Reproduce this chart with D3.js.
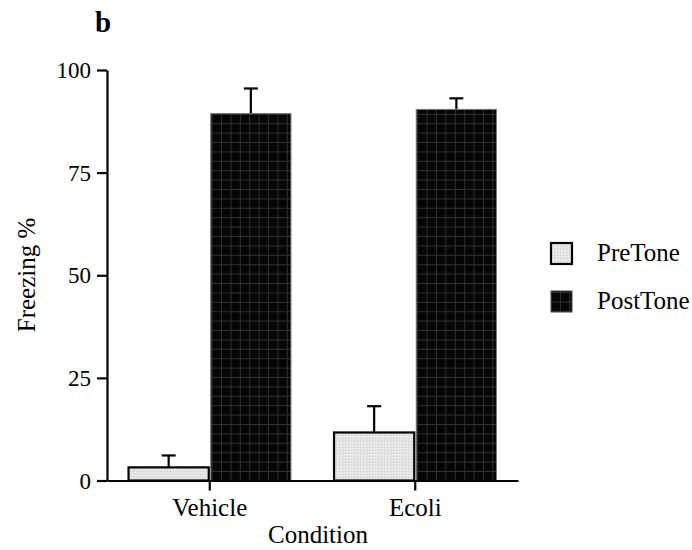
<!DOCTYPE html>
<html>
<head>
<meta charset="utf-8">
<script src="https://cdn.jsdelivr.net/npm/d3@7"></script>
<style>
  body { margin: 0; background: #fff; }
  text { font-family: "Liberation Serif", "Times New Roman", serif; fill: #000; }
</style>
</head>
<body>
<div id="chart"></div>
<script>
"use strict";

const conditions = ["Vehicle", "Ecoli"];
const phases = ["PreTone", "PostTone"];
const preTone = [3.2, 11.7];
const postTone = [89.4, 90.4];
const preToneErr = [2.9, 6.4];
const postToneErr = [6.1, 2.7];
const yTicks = [0, 25, 50, 75, 100];

const width = 692,
    height = 550;

const svg = d3.select("#chart").append("svg")
    .attr("width", width)
    .attr("height", height);

const defs = svg.append("defs");

// stippled light grey for PreTone
const pre = defs.append("pattern")
    .attr("id", "pre")
    .attr("patternUnits", "userSpaceOnUse")
    .attr("width", 3)
    .attr("height", 3);
pre.append("rect").attr("width", 3).attr("height", 3).attr("fill", "#e4e4e4");
pre.append("rect").attr("width", 1).attr("height", 1).attr("fill", "#cfcfcf");
pre.append("rect").attr("x", 2).attr("y", 1).attr("width", 1).attr("height", 1).attr("fill", "#f2f2f2");

// black with a faint grid for PostTone
const post = defs.append("pattern")
    .attr("id", "post")
    .attr("patternUnits", "userSpaceOnUse")
    .attr("width", 9.4)
    .attr("height", 9.4)
    .attr("x", 0.5)
    .attr("y", 2);
post.append("rect").attr("width", 9.4).attr("height", 9.4).attr("fill", "#050505");
post.append("rect").attr("x", 8.4).attr("width", 1).attr("height", 9.4).attr("fill", "#303030");
post.append("rect").attr("y", 8.4).attr("width", 9.4).attr("height", 1).attr("fill", "#303030");

const x0 = d3.scaleBand()
    .domain(conditions)
    .range([107, 518])
    .paddingInner(0.2)
    .paddingOuter(0.1);

const x1 = d3.scaleBand()
    .domain(phases)
    .range([0, x0.bandwidth()]);

const y = d3.scaleLinear()
    .domain([0, 100])
    .range([480.5, 70]);

const rows = conditions.map((c, i) => ({
    condition: c,
    bars: [
        {phase: "PreTone", value: preTone[i], err: preToneErr[i]},
        {phase: "PostTone", value: postTone[i], err: postToneErr[i]}
    ]
}));

const groups = svg.append("g").selectAll("g")
    .data(rows)
    .join("g")
    .attr("transform", d => `translate(${x0(d.condition)},0)`);

// error bars (drawn first so the bar covers the lower half)
groups.selectAll("line.err")
    .data(d => d.bars)
    .join("line")
    .attr("class", "err")
    .attr("x1", d => x1(d.phase) + x1.bandwidth() / 2)
    .attr("x2", d => x1(d.phase) + x1.bandwidth() / 2)
    .attr("y1", d => y(d.value))
    .attr("y2", d => y(d.value + d.err))
    .attr("stroke", "#000")
    .attr("stroke-width", 2.2);

groups.selectAll("line.cap")
    .data(d => d.bars)
    .join("line")
    .attr("class", "cap")
    .attr("x1", d => x1(d.phase) + x1.bandwidth() / 2 - 7)
    .attr("x2", d => x1(d.phase) + x1.bandwidth() / 2 + 7)
    .attr("y1", d => y(d.value + d.err))
    .attr("y2", d => y(d.value + d.err))
    .attr("stroke", "#000")
    .attr("stroke-width", 2.2);

groups.selectAll("rect")
    .data(d => d.bars)
    .join("rect")
    .attr("x", d => x1(d.phase) + 1)
    .attr("y", d => y(d.value))
    .attr("width", x1.bandwidth() - 2)
    .attr("height", d => y(0) - y(d.value))
    .attr("fill", d => d.phase === "PreTone" ? "url(#pre)" : "url(#post)")
    .attr("stroke", d => d.phase === "PreTone" ? "#000" : "#777")
    .attr("stroke-width", d => d.phase === "PreTone" ? 2.2 : 1);

// y axis
const yAxis = svg.append("g")
    .attr("transform", "translate(107,0)")
    .call(d3.axisLeft(y).tickValues(yTicks).tickSize(10).tickPadding(6).tickSizeOuter(0));
yAxis.select(".domain").attr("stroke-width", 2.2);
yAxis.selectAll(".tick line").attr("stroke-width", 2.2);
yAxis.selectAll(".tick text")
    .style("font-family", "Liberation Serif, serif")
    .style("font-size", "23px")
    .attr("dy", "0.33em");

// x axis
const xAxis = svg.append("g")
    .attr("transform", `translate(0,${y(0)})`)
    .call(d3.axisBottom(x0).tickSize(10).tickPadding(6).tickSizeOuter(0));
xAxis.select(".domain").attr("stroke-width", 2.2);
xAxis.selectAll(".tick line").attr("stroke-width", 2.2);
xAxis.selectAll(".tick text")
    .style("font-family", "Liberation Serif, serif")
    .style("font-size", "25px")
    .attr("dy", "0.78em");

// axis titles
svg.append("text")
    .attr("x", 318)
    .attr("y", 543)
    .attr("text-anchor", "middle")
    .style("font-size", "25px")
    .text("Condition");

svg.append("text")
    .attr("transform", "translate(35,275) rotate(-90)")
    .attr("text-anchor", "middle")
    .style("font-size", "25px")
    .text("Freezing %");

// panel letter
svg.append("text")
    .attr("x", 95)
    .attr("y", 32)
    .style("font-size", "29px")
    .style("font-weight", "bold")
    .text("b");

// legend
const legend = svg.append("g").selectAll("g")
    .data(phases)
    .join("g")
    .attr("transform", (d, i) => `translate(551,${243 + i * 48})`);

legend.append("rect")
    .attr("width", 21)
    .attr("height", 21)
    .attr("fill", d => d === "PreTone" ? "url(#pre)" : "url(#post)")
    .attr("stroke", d => d === "PreTone" ? "#000" : "#444")
    .attr("stroke-width", d => d === "PreTone" ? 2.2 : 1);

legend.append("text")
    .attr("x", 46)
    .attr("y", 18)
    .style("font-size", "25px")
    .text(d => d);
</script>
</body>
</html>
